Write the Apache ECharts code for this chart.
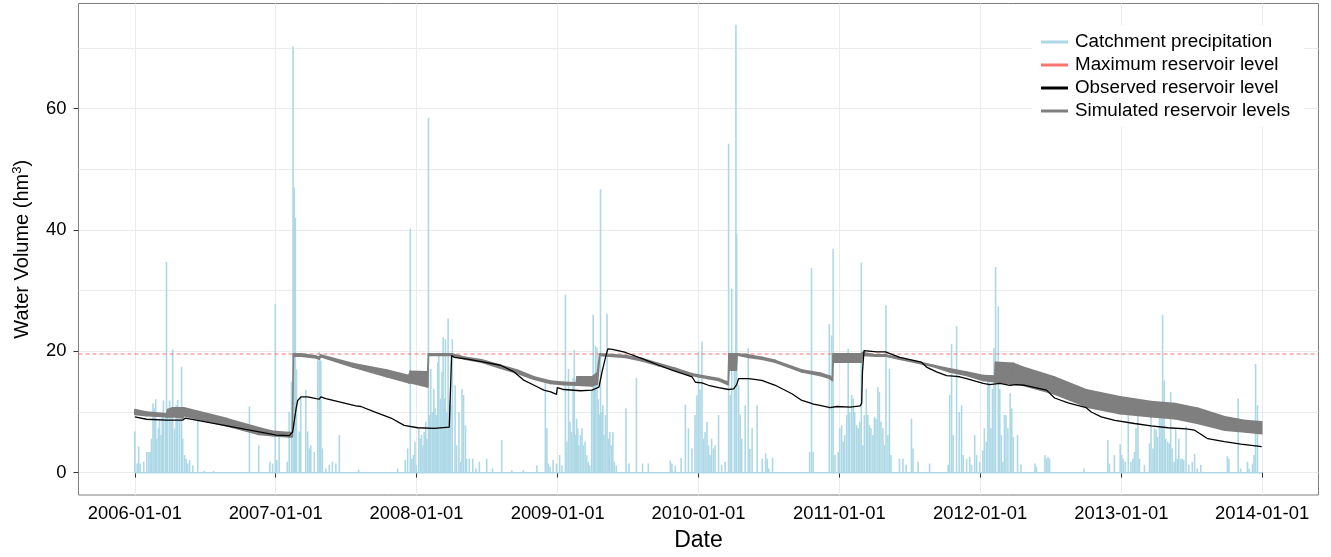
<!DOCTYPE html>
<html><head><meta charset="utf-8">
<script src="https://cdn.jsdelivr.net/npm/echarts@6/dist/echarts.min.js"></script>
<style>html,body{margin:0;padding:0;background:#fff}#c{width:1331px;height:557px}</style>
</head><body><div id="c"></div>
<script>
// ---- data ----
const yearTicks = ['2006-01-01','2007-01-01','2008-01-01','2009-01-01','2010-01-01','2011-01-01','2012-01-01','2013-01-01','2014-01-01'];
const yTickLabels = [0, 20, 40, 60];
const yGridValues = [0, 10, 20, 30, 40, 50, 60, 70];
const precipRange = ['2006-01-01', '2014-01-01'];
const maxLevel = 19.55;

const precipitation = [
['2006-01-01',6.8],['2006-01-07',1.5],['2006-01-11',4.3],['2006-01-15',1.5],['2006-01-24',1.8],['2006-02-01',3.4],['2006-02-06',3.4],['2006-02-10',3.4],['2006-02-13',5.6],['2006-02-17',11.4],['2006-02-20',10.6],['2006-02-24',12.1],['2006-02-27',5.6],['2006-03-03',7.3],['2006-03-06',8.9],['2006-03-10',6.2],['2006-03-13',10.0],['2006-03-16',11.9],['2006-03-21',9.2],['2006-03-24',34.7],['2006-03-27',9.7],['2006-04-01',11.9],['2006-04-05',10.6],['2006-04-09',20.3],['2006-04-14',7.3],['2006-04-18',11.1],['2006-04-22',12.0],['2006-04-27',8.9],['2006-05-02',17.4],['2006-05-05',5.6],['2006-05-10',2.9],['2006-05-14',2.3],['2006-05-18',1.5],['2006-05-23',2.1],['2006-05-31',1.2],['2006-06-13',8.6],['2006-06-30',0.3],['2006-07-24',0.3],['2006-10-25',10.9],['2006-11-18',4.5],['2006-12-17',1.8],['2006-12-24',1.5],['2006-12-31',27.8],
['2007-01-04',2.1],['2007-01-10',6.2],['2007-01-31',1.8],['2007-02-05',10.0],['2007-02-11',15.0],['2007-02-15',70.2],['2007-02-18',47.0],['2007-02-21',42.0],['2007-02-24',17.0],['2007-03-03',6.8],['2007-03-07',12.5],['2007-03-20',13.6],['2007-03-25',6.8],['2007-03-29',4.0],['2007-04-02',4.5],['2007-04-11',3.4],['2007-04-20',18.5],['2007-04-24',19.9],['2007-04-28',18.5],['2007-05-02',4.0],['2007-05-11',0.7],['2007-05-20',1.3],['2007-05-28',1.8],['2007-06-06',1.5],['2007-06-15',6.2],['2007-08-04',0.5],
['2007-11-13',0.7],['2007-12-03',2.1],['2007-12-09',4.0],['2007-12-16',40.2],['2007-12-20',2.3],['2007-12-24',2.9],['2007-12-28',5.1],['2008-01-01',1.2],['2008-01-07',7.3],['2008-01-11',5.6],['2008-01-14',6.2],['2008-01-18',4.5],['2008-01-21',6.7],['2008-01-25',8.4],['2008-01-28',5.6],['2008-02-01',58.4],['2008-02-04',9.5],['2008-02-07',17.1],['2008-02-11',10.0],['2008-02-15',13.8],['2008-02-18',10.6],['2008-02-21',9.5],['2008-02-25',18.2],['2008-02-28',19.5],['2008-03-03',12.2],['2008-03-07',16.6],['2008-03-10',22.3],['2008-03-13',12.2],['2008-03-16',22.0],['2008-03-20',10.0],['2008-03-23',25.4],['2008-03-27',11.9],['2008-03-30',11.1],['2008-04-03',22.0],['2008-04-10',14.4],['2008-04-14',4.5],['2008-04-20',10.0],['2008-04-24',1.8],['2008-04-28',13.8],['2008-05-02',12.8],['2008-05-07',7.8],['2008-05-10',2.3],['2008-05-17',2.3],['2008-05-26',2.3],['2008-06-03',0.7],['2008-06-12',1.8],['2008-07-01',2.3],['2008-07-16',0.7],['2008-08-09',5.4],['2008-09-04',0.4],['2008-10-04',0.4],['2008-11-08',1.2],
['2008-11-30',15.0],['2008-12-04',7.3],['2008-12-08',1.5],['2008-12-12',1.0],['2008-12-20',2.1],['2008-12-29',1.5],['2009-01-06',2.9],['2009-01-12',1.2],['2009-01-21',29.3],['2009-01-25',5.1],['2009-01-29',17.1],['2009-02-02',8.4],['2009-02-06',6.7],['2009-02-10',15.6],['2009-02-13',20.2],['2009-02-16',6.2],['2009-02-19',8.9],['2009-02-22',7.3],['2009-02-25',4.5],['2009-03-01',6.2],['2009-03-05',7.3],['2009-03-09',4.5],['2009-03-13',5.1],['2009-03-17',2.9],['2009-03-21',1.8],['2009-03-25',1.2],['2009-03-30',13.8],['2009-04-03',26.0],['2009-04-06',15.6],['2009-04-09',20.9],['2009-04-13',20.6],['2009-04-16',12.1],['2009-04-19',9.6],['2009-04-22',46.7],['2009-04-25',10.0],['2009-04-28',11.1],['2009-05-01',6.2],['2009-05-05',9.5],['2009-05-09',26.2],['2009-05-12',5.6],['2009-05-16',6.7],['2009-05-20',4.5],['2009-05-24',6.7],['2009-05-28',1.8],['2009-06-02',1.2],['2009-06-27',10.6],['2009-07-05',1.5],['2009-07-24',15.6],['2009-08-09',1.5],['2009-08-24',1.5],
['2009-10-20',2.0],['2009-10-24',1.5],['2009-11-02',1.2],['2009-11-17',2.4],['2009-11-28',11.2],['2009-12-06',7.3],['2009-12-15',4.0],['2009-12-23',9.5],['2009-12-28',12.7],['2010-01-01',19.9],['2010-01-05',13.7],['2010-01-10',21.6],['2010-01-14',5.6],['2010-01-18',6.7],['2010-01-23',8.4],['2010-01-27',4.5],['2010-01-31',2.9],['2010-02-04',5.6],['2010-02-09',4.0],['2010-02-13',4.5],['2010-02-22',9.5],['2010-03-02',1.3],['2010-03-11',1.8],['2010-03-20',54.2],['2010-03-24',12.8],['2010-03-28',30.3],['2010-04-04',17.7],['2010-04-08',73.8],['2010-04-10',39.3],['2010-04-15',14.4],['2010-04-19',9.6],['2010-04-23',5.6],['2010-05-02',11.1],['2010-05-10',20.5],['2010-05-14',3.9],['2010-05-20',7.3],['2010-06-02',11.1],['2010-06-15',2.3],['2010-06-24',3.2],['2010-06-28',2.3],['2010-07-02',0.7],['2010-07-12',2.5],
['2010-10-16',3.4],['2010-10-21',33.7],['2010-10-25',3.4],['2010-12-06',24.5],['2010-12-12',22.6],['2010-12-16',36.9],['2010-12-21',2.9],['2010-12-29',3.4],['2011-01-02',7.3],['2011-01-07',7.8],['2011-01-11',5.1],['2011-01-15',6.2],['2011-01-20',9.5],['2011-01-24',20.4],['2011-01-28',10.0],['2011-02-02',12.8],['2011-02-06',12.2],['2011-02-10',10.0],['2011-02-15',7.8],['2011-02-19',7.3],['2011-02-23',8.4],['2011-02-27',34.6],['2011-03-03',4.5],['2011-03-07',9.5],['2011-03-12',13.8],['2011-03-16',9.5],['2011-03-20',7.8],['2011-03-24',7.3],['2011-03-29',6.2],['2011-04-02',9.2],['2011-04-06',8.9],['2011-04-11',14.1],['2011-04-15',13.3],['2011-04-19',8.4],['2011-04-24',7.3],['2011-04-28',4.5],['2011-05-02',27.6],['2011-05-07',6.2],['2011-05-11',17.1],['2011-05-15',2.9],['2011-06-06',2.3],['2011-06-15',2.3],['2011-06-23',1.3],['2011-07-07',8.9],['2011-07-11',4.0],['2011-07-24',1.8],['2011-08-23',1.5],
['2011-10-10',1.3],['2011-10-14',12.8],['2011-10-19',21.2],['2011-10-23',6.2],['2011-11-01',24.1],['2011-11-08',10.0],['2011-11-14',11.1],['2011-11-18',2.9],['2011-11-27',2.3],['2011-12-05',2.6],['2011-12-10',1.3],['2011-12-18',6.2],['2011-12-23',2.9],['2011-12-31',1.8],['2012-01-08',3.7],['2012-01-12',7.3],['2012-01-17',5.1],['2012-01-21',15.8],['2012-01-25',15.0],['2012-01-29',7.3],['2012-02-02',13.8],['2012-02-06',20.5],['2012-02-10',33.9],['2012-02-17',27.4],['2012-02-21',13.8],['2012-02-25',6.2],['2012-02-29',1.8],['2012-03-04',9.5],['2012-03-08',9.5],['2012-03-13',7.3],['2012-03-19',13.1],['2012-03-23',10.6],['2012-03-27',5.9],['2012-04-07',6.2],['2012-04-16',1.3],['2012-05-22',1.5],['2012-05-26',1.0],['2012-06-17',2.9],['2012-06-21',2.3],['2012-06-25',2.6],['2012-06-29',2.3],['2012-09-26',0.7],
['2012-11-27',5.4],['2012-12-01',1.5],['2012-12-14',2.9],['2012-12-29',4.7],['2013-01-02',2.9],['2013-01-06',2.3],['2013-01-11',1.8],['2013-01-19',10.0],['2013-01-26',1.8],['2013-01-31',2.3],['2013-02-04',3.4],['2013-02-08',7.3],['2013-02-13',9.5],['2013-02-17',2.3],['2013-03-02',1.3],['2013-03-15',4.8],['2013-03-19',9.2],['2013-03-24',4.0],['2013-03-28',7.3],['2013-04-01',7.1],['2013-04-05',5.9],['2013-04-10',9.0],['2013-04-14',10.6],['2013-04-18',26.0],['2013-04-22',15.2],['2013-04-26',5.6],['2013-05-01',5.1],['2013-05-05',4.8],['2013-05-09',13.3],['2013-05-13',4.0],['2013-05-18',1.8],['2013-05-22',7.3],['2013-05-26',2.3],['2013-05-30',5.6],['2013-06-04',2.3],['2013-06-08',2.3],['2013-06-12',2.1],['2013-06-18',7.6],['2013-06-25',1.3],['2013-07-04',1.8],['2013-07-10',3.1],['2013-07-17',0.7],['2013-07-26',1.3],['2013-10-03',2.7],['2013-10-07',2.3],['2013-10-31',12.2],['2013-11-06',0.7],['2013-11-24',1.8],['2013-11-28',0.7],['2013-12-07',1.5],['2013-12-11',2.9],['2013-12-15',17.9],['2013-12-20',11.1]
];

const observed = [
['2006-01-01',9.2],['2006-01-31',8.8],['2006-03-24',8.65],['2006-05-05',8.65],['2006-05-12',9.0],['2006-12-24',6.3],['2007-01-02',6.2],['2007-02-05',6.1],['2007-02-14',6.7],['2007-02-18',8.4],['2007-02-23',10.6],['2007-02-27',11.9],['2007-03-08',12.5],['2007-03-25',12.5],['2007-04-16',12.2],['2007-04-24',12.1],['2007-04-28',12.5],['2007-05-11',12.2],['2007-07-28',11.0],['2007-08-10',10.9],['2007-09-14',10.0],['2007-10-27',9.0],['2007-11-30',7.8],['2008-01-04',7.4],['2008-02-16',7.3],['2008-03-26',7.5],['2008-03-30',7.7],['2008-04-01',19.3],['2008-04-08',19.0],['2008-05-12',18.7],['2008-06-24',18.2],['2008-08-06',17.7],['2008-09-10',16.6],['2008-10-06',15.2],['2008-11-01',14.4],['2008-11-26',13.6],['2008-12-14',13.3],['2008-12-29',12.9],['2008-12-31',14.0],['2009-01-17',13.7],['2009-03-01',13.5],['2009-03-31',13.6],['2009-04-18',14.1],['2009-04-26',16.6],['2009-05-05',19.0],['2009-05-11',20.4],['2009-05-23',20.3],['2009-06-26',19.8],['2009-08-08',18.8],['2009-09-20',17.7],['2009-10-24',16.9],['2009-12-06',16.0],['2009-12-15',15.8],['2009-12-24',14.9],['2010-01-10',14.8],['2010-01-27',14.4],['2010-02-22',14.0],['2010-03-20',13.7],['2010-04-02',13.8],['2010-04-10',14.5],['2010-04-15',15.5],['2010-04-19',15.7],['2010-05-11',15.5],['2010-06-14',15.2],['2010-07-19',14.4],['2010-08-31',13.0],['2010-09-26',11.9],['2010-10-17',11.5],['2010-10-26',11.3],['2010-11-12',11.1],['2010-12-08',10.7],['2010-12-26',10.9],['2011-01-29',10.8],['2011-02-24',11.0],['2011-02-28',11.4],['2011-03-02',16.6],['2011-03-06',20.1],['2011-04-08',19.9],['2011-05-01',19.9],['2011-05-04',20.1],['2011-05-12',19.6],['2011-06-07',19.0],['2011-07-12',18.5],['2011-08-02',18.2],['2011-08-15',17.4],['2011-09-10',16.6],['2011-10-06',16.0],['2011-10-23',15.9],['2011-11-09',15.8],['2011-11-27',15.5],['2012-01-09',14.7],['2012-01-26',14.5],['2012-01-30',14.7],['2012-02-21',14.7],['2012-03-18',14.4],['2012-04-04',14.5],['2012-04-26',14.4],['2012-06-21',13.6],['2012-07-12',12.3],['2012-08-16',11.5],['2012-10-02',10.7],['2012-10-15',10.0],['2012-11-10',9.2],['2012-12-15',8.6],['2013-02-04',8.1],['2013-03-19',7.7],['2013-05-02',7.4],['2013-06-18',7.2],['2013-07-10',7.0],['2013-07-27',6.3],['2013-08-13',5.6],['2013-09-25',5.1],['2013-11-07',4.7],['2013-12-31',4.3]
];

// [date, lowest simulation, highest simulation]
const simulated = [
['2006-01-01',9.6,10.4],['2006-01-31',9.4,10.0],['2006-03-24',9.2,9.7],['2006-03-27',9.2,10.4],['2006-04-09',9.2,10.7],['2006-05-05',9.0,10.7],['2006-05-08',9.4,10.7],['2006-08-28',7.7,8.9],['2006-11-19',6.3,7.4],['2006-12-24',6.1,6.8],['2007-02-05',5.9,6.6],['2007-02-13',5.9,6.6],['2007-02-16',19.2,19.6],['2007-03-08',19.2,19.6],['2007-04-16',18.9,19.2],['2007-04-24',18.7,19.0],['2007-04-28',19.1,19.4],['2007-07-20',17.4,18.0],['2007-10-16',15.8,16.9],['2007-12-12',14.8,16.0],['2007-12-16',14.8,16.7],['2008-01-30',14.1,16.6],['2008-02-01',19.3,19.6],['2008-04-01',19.3,19.6],['2008-05-06',18.7,19.0],['2008-06-18',18.2,18.6],['2008-08-06',17.2,17.7],['2008-09-18',16.4,16.9],['2008-10-31',15.4,15.8],['2008-12-13',14.7,15.1],['2009-01-17',14.5,14.9],['2009-02-18',14.4,14.8],['2009-02-20',14.4,15.8],['2009-03-31',14.3,15.8],['2009-04-14',14.6,16.5],['2009-04-20',19.3,19.6],['2009-06-26',19.0,19.3],['2009-08-08',18.4,18.8],['2009-09-20',17.6,18.0],['2009-11-02',16.9,17.2],['2009-12-15',16.0,16.3],['2010-01-27',15.5,15.8],['2010-02-22',15.2,15.5],['2010-03-19',14.5,14.9],['2010-03-21',16.9,19.6],['2010-04-09',16.9,19.6],['2010-04-11',19.4,19.6],['2010-05-11',19.0,19.4],['2010-06-14',18.7,19.0],['2010-07-19',18.2,18.5],['2010-09-26',16.6,16.9],['2010-11-12',16.0,16.4],['2010-12-08',15.5,15.9],['2010-12-14',15.2,15.5],['2010-12-16',18.2,19.6],['2011-02-27',18.2,19.6],['2011-03-02',19.3,19.8],['2011-04-06',19.2,19.4],['2011-05-02',19.2,19.4],['2011-06-06',18.7,18.9],['2011-07-20',18.1,18.3],['2011-09-01',17.5,17.7],['2011-10-14',16.6,17.1],['2011-11-27',16.0,16.6],['2012-01-09',15.2,16.0],['2012-02-08',15.0,15.9],['2012-02-10',14.9,18.2],['2012-03-28',14.6,18.0],['2012-04-20',14.4,17.4],['2012-07-10',13.0,15.8],['2012-10-05',10.8,13.6],['2012-12-29',9.7,12.5],['2013-03-19',9.2,11.7],['2013-05-20',8.9,11.4],['2013-07-19',8.1,10.6],['2013-09-26',7.0,9.2],['2013-11-18',6.7,8.6],['2013-12-31',6.4,8.4]
];

// ---- chart ----
const DAY = 86400000;
const utc = s => Date.parse(s + 'T00:00:00Z');
const padDays = 146.1;            // ggplot-like 5% expansion of the date range
const yMin = -3.68, yMax = 77.3;  // 5% expansion of 0..73.8
const xMin = utc(precipRange[0]) - padDays * DAY, xMax = utc(precipRange[1]) + padDays * DAY;
const FONT = "'Liberation Sans', Arial, Helvetica, sans-serif";
const C_PRECIP = '#ADD8E6', C_MAX = '#F8766D', C_OBS = '#000000', C_SIM = '#7F7F7F';

// band segments between consecutive simulated points (for polygon drawing)
const simSegments = [];
for (let i = 0; i < simulated.length - 1; i++) {
  const a = simulated[i], b = simulated[i + 1];
  simSegments.push([utc(a[0]), a[1], a[2], utc(b[0]), b[1], b[2]]);
}

const yearVals = yearTicks.map(utc);
const chart = echarts.init(document.getElementById('c'), null, {renderer: 'canvas'});
chart.setOption({
  animation: false,
  backgroundColor: '#ffffff',
  textStyle: {fontFamily: FONT},
  grid: {left: 78.5, right: 12.5, top: 3.5, bottom: 60.3, show: true, borderColor: '#7F7F7F', borderWidth: 1, backgroundColor: 'rgba(0,0,0,0)'},
  legend: {
    orient: 'vertical', left: 1032, top: 25, padding: [7, 14, 6, 9],
    backgroundColor: '#ffffff', itemGap: 3, itemWidth: 27, itemHeight: 3, selectedMode: false,
    textStyle: {fontSize: 18.8, color: '#000', fontFamily: FONT, lineHeight: 20, padding: [0, 0, 0, 2]},
    data: [
      {name: 'Catchment precipitation', icon: 'rect', itemStyle: {color: C_PRECIP}},
      {name: 'Maximum reservoir level', icon: 'rect', itemStyle: {color: C_MAX}},
      {name: 'Observed reservoir level', icon: 'rect', itemStyle: {color: C_OBS}},
      {name: 'Simulated reservoir levels', icon: 'rect', itemStyle: {color: C_SIM}}
    ]
  },
  xAxis: {
    type: 'value', min: xMin, max: xMax,
    name: 'Date', nameLocation: 'middle', nameGap: 34,
    nameTextStyle: {fontSize: 23, color: '#000', fontFamily: FONT},
    axisLine: {show: false},
    axisTick: {show: true, length: 5, lineStyle: {color: '#333'}, customValues: yearVals},
    axisLabel: {customValues: yearVals, formatter: v => new Date(v).toISOString().slice(0, 10), fontSize: 18.4, color: '#000', margin: 10, fontFamily: FONT},
    splitLine: {show: true, lineStyle: {color: '#EBEBEB', width: 1}}
  },
  yAxis: [
    {
      type: 'value', min: yMin, max: yMax, splitNumber: 8, position: 'left',
      axisLine: {show: false}, axisLabel: {show: false},
      axisTick: {show: false, customValues: yGridValues},
      splitLine: {show: true, lineStyle: {color: '#EBEBEB', width: 1}}
    },
    {
      type: 'value', min: yMin, max: yMax, position: 'left', offset: 0,
      name: 'Water Volume (hm{sup|3})', nameLocation: 'middle', nameGap: 45.5,
      nameTextStyle: {fontSize: 20, color: '#000', fontFamily: FONT,
        rich: {sup: {fontSize: 13, verticalAlign: 'top', padding: [0, 0, 9, 0], fontFamily: FONT, color: '#000'}}},
      axisLine: {show: false},
      axisTick: {show: true, length: 5, lineStyle: {color: '#333'}, customValues: yTickLabels},
      axisLabel: {customValues: yTickLabels, fontSize: 18.4, color: '#000', margin: 12, fontFamily: FONT},
      splitLine: {show: false}
    }
  ],
  series: [
    {
      name: 'Catchment precipitation', type: 'bar', yAxisIndex: 0, z: 2,
      barWidth: 1.6, itemStyle: {color: C_PRECIP},
      data: precipitation.map(d => [utc(d[0]), d[1]])
    },
    {
      name: 'Catchment precipitation', type: 'line', yAxisIndex: 0, z: 2,
      showSymbol: false, lineStyle: {color: C_PRECIP, width: 1.5}, itemStyle: {color: C_PRECIP},
      data: precipRange.map(s => [utc(s), 0])
    },
    {
      name: 'Maximum reservoir level', type: 'line', yAxisIndex: 0, z: 3,
      showSymbol: false, itemStyle: {color: C_MAX},
      lineStyle: {color: C_MAX, type: [4, 3], width: 1.2},
      data: [[xMin, maxLevel], [xMax, maxLevel]]
    },
    {
      name: 'Simulated reservoir levels', type: 'custom', yAxisIndex: 0, z: 4,
      itemStyle: {color: C_SIM},
      encode: {x: [0, 3], y: [1, 2, 4, 5]},
      data: simSegments,
      renderItem: (params, api) => {
        const a0 = api.coord([api.value(0), api.value(1)]);
        const a1 = api.coord([api.value(0), api.value(2)]);
        const b0 = api.coord([api.value(3), api.value(4)]);
        const b1 = api.coord([api.value(3), api.value(5)]);
        return {type: 'polygon', shape: {points: [a0, b0, b1, a1]},
          style: {fill: C_SIM, stroke: C_SIM, lineWidth: 1.6, lineJoin: 'round'}};
      }
    },
    {
      name: 'Observed reservoir level', type: 'line', yAxisIndex: 0, z: 5,
      showSymbol: false, lineStyle: {color: C_OBS, width: 1.3}, itemStyle: {color: C_OBS},
      data: observed.map(d => [utc(d[0]), d[1]])
    }
  ]
});
</script>
</body></html>
